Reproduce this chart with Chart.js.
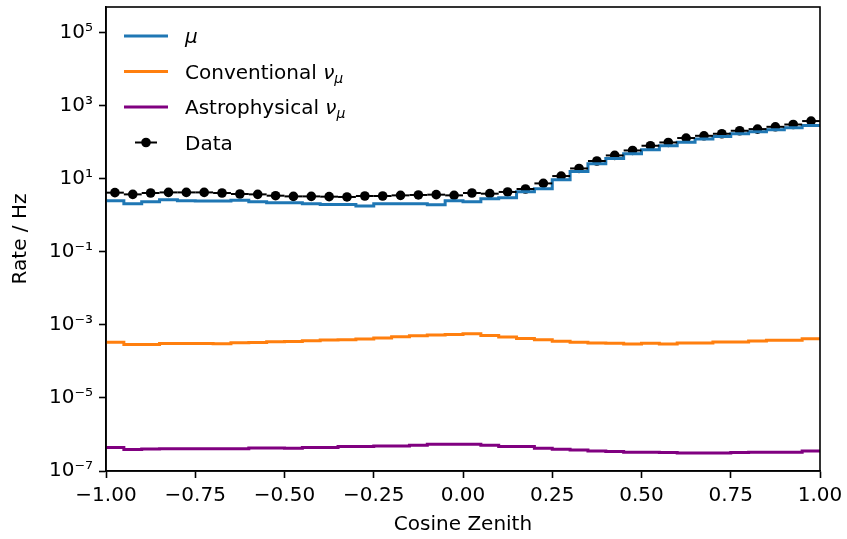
<!DOCTYPE html>
<html>
<head>
<meta charset="utf-8">
<script src="https://cdn.jsdelivr.net/npm/chart.js@4/dist/chart.umd.min.js"></script>
<style>
  html, body { margin: 0; padding: 0; background: #fff; }
  #wrap { width: 847px; height: 539px; position: relative; }
</style>
</head>
<body>
<div id="wrap"><canvas id="c" width="847" height="539"></canvas></div>
<script>
// ---- Data ----
const binEdges = [-1.00,-0.95,-0.90,-0.85,-0.80,-0.75,-0.70,-0.65,-0.60,-0.55,-0.50,-0.45,-0.40,-0.35,-0.30,-0.25,-0.20,-0.15,-0.10,-0.05,0.00,0.05,0.10,0.15,0.20,0.25,0.30,0.35,0.40,0.45,0.50,0.55,0.60,0.65,0.70,0.75,0.80,0.85,0.90,0.95,1.00];

const muRate = [2.54,2.10,2.38,2.70,2.54,2.49,2.49,2.59,2.38,2.24,2.24,2.10,2.01,2.01,1.82,2.10,2.10,2.10,1.97,2.54,2.38,2.88,3.07,4.48,5.41,9.53,16.1,26.1,36.5,49.0,63.1,81.2,102,124,146,173,196,222,252,291];

const convNuMuRate = [3.38e-4,2.92e-4,2.92e-4,3.11e-4,3.11e-4,3.11e-4,3.05e-4,3.26e-4,3.32e-4,3.47e-4,3.53e-4,3.69e-4,3.88e-4,3.93e-4,4.14e-4,4.41e-4,4.75e-4,5.06e-4,5.32e-4,5.50e-4,5.74e-4,5.15e-4,4.69e-4,4.27e-4,3.93e-4,3.60e-4,3.38e-4,3.21e-4,3.18e-4,3.02e-4,3.18e-4,3.02e-4,3.21e-4,3.21e-4,3.43e-4,3.43e-4,3.65e-4,3.84e-4,3.84e-4,4.22e-4];

const astroNuMuRate = [4.37e-7,3.86e-7,4.00e-7,4.10e-7,4.10e-7,4.10e-7,4.10e-7,4.10e-7,4.24e-7,4.24e-7,4.18e-7,4.37e-7,4.37e-7,4.66e-7,4.66e-7,4.83e-7,4.83e-7,5.05e-7,5.38e-7,5.38e-7,5.38e-7,5.05e-7,4.66e-7,4.66e-7,4.18e-7,3.93e-7,3.76e-7,3.53e-7,3.40e-7,3.25e-7,3.25e-7,3.19e-7,3.11e-7,3.11e-7,3.11e-7,3.19e-7,3.25e-7,3.25e-7,3.25e-7,3.53e-7];

const dataRate = [4.21,3.78,4.12,4.28,4.28,4.28,4.12,3.87,3.78,3.48,3.33,3.33,3.27,3.21,3.41,3.41,3.55,3.64,3.71,3.55,4.12,3.95,4.40,5.31,7.55,12.0,19.4,31.0,44.1,60.4,81.2,100,132,152,173,209,232,268,310,385];

const xTicks = [-1.00,-0.75,-0.50,-0.25,0.00,0.25,0.50,0.75,1.00];
const yTickExponents = [-7,-5,-3,-1,1,3,5];

const legendEntries = [
  [{t:'μ', it:true}],
  [{t:'Conventional '}, {t:'ν', it:true}, {t:'μ', it:true, sub:true}],
  [{t:'Astrophysical '}, {t:'ν', it:true}, {t:'μ', it:true, sub:true}],
  [{t:'Data'}]
];

// ---- Build library data ----
function stepPoints(vals) {
  const pts = vals.map((v, i) => ({x: binEdges[i], y: v}));
  pts.push({x: binEdges[binEdges.length - 1], y: vals[vals.length - 1]});
  return pts;
}
const dataPoints = dataRate.map((v, i) => ({x: (binEdges[i] + binEdges[i+1]) / 2, y: v, lo: binEdges[i], hi: binEdges[i+1]}));

const FONT = "'DejaVu Sans', sans-serif";
const supMap = {'-':'⁻','0':'⁰','1':'¹','2':'²','3':'³','4':'⁴','5':'⁵','6':'⁶','7':'⁷','8':'⁸','9':'⁹'};
const toSup = n => String(n).split('').map(c => supMap[c]).join('');

const colors = ['#1f77b4', '#ff7f0e', '#800080', '#000000'];

const frameAndExtras = {
  id: 'frameAndExtras',
  afterDatasetsDraw(chart) {
    const ctx = chart.ctx;
    const xs = chart.scales.x, ys = chart.scales.y;
    const ca = chart.chartArea;
    ctx.save();
    ctx.beginPath();
    ctx.rect(ca.left, ca.top, ca.right - ca.left, ca.bottom - ca.top);
    ctx.clip();
    ctx.strokeStyle = '#000';
    ctx.lineWidth = 2;
    dataPoints.forEach(p => {
      const y = ys.getPixelForValue(p.y);
      ctx.beginPath();
      ctx.moveTo(xs.getPixelForValue(p.lo), y);
      ctx.lineTo(xs.getPixelForValue(p.hi), y);
      ctx.stroke();
    });
    ctx.restore();
  },
  afterDraw(chart) {
    const ctx = chart.ctx;
    const ca = chart.chartArea;
    ctx.save();
    ctx.strokeStyle = '#000';
    ctx.lineWidth = 1.6;
    ctx.strokeRect(ca.left, ca.top, ca.right - ca.left, ca.bottom - ca.top);
    const hx0 = ca.left + 18, hx1 = ca.left + 62, tx = ca.left + 79;
    legendEntries.forEach((parts, i) => {
      const y = ca.top + 29 + 35.5 * i;
      ctx.strokeStyle = colors[i];
      if (i < 3) {
        ctx.lineWidth = 3;
        ctx.beginPath(); ctx.moveTo(hx0, y); ctx.lineTo(hx1, y); ctx.stroke();
      } else {
        ctx.lineWidth = 2;
        ctx.beginPath(); ctx.moveTo(hx0 + 11, y); ctx.lineTo(hx1 - 11, y); ctx.stroke();
        ctx.fillStyle = '#000';
        ctx.beginPath(); ctx.arc((hx0 + hx1) / 2, y, 4.8, 0, Math.PI * 2); ctx.fill();
      }
      let x = tx;
      ctx.fillStyle = '#000';
      ctx.textBaseline = 'alphabetic';
      ctx.textAlign = 'left';
      const base = y + 7;
      parts.forEach(p => {
        const size = p.sub ? 14 : 20;
        ctx.font = (p.it ? 'italic ' : '') + size + 'px ' + FONT;
        ctx.fillText(p.t, x, base + (p.sub ? 4 : 0));
        x += ctx.measureText(p.t).width;
      });
    });
    ctx.restore();
  }
};

const ctx = document.getElementById('c').getContext('2d');
Chart.defaults.color = '#000';
Chart.defaults.font.family = FONT;

new Chart(ctx, {
  type: 'line',
  data: {
    datasets: [
      {label: 'μ', data: stepPoints(muRate), borderColor: colors[0], borderWidth: 3, stepped: true, pointRadius: 0, fill: false},
      {label: 'Conventional νμ', data: stepPoints(convNuMuRate), borderColor: colors[1], borderWidth: 3, stepped: true, pointRadius: 0, fill: false},
      {label: 'Astrophysical νμ', data: stepPoints(astroNuMuRate), borderColor: colors[2], borderWidth: 3, stepped: true, pointRadius: 0, fill: false},
      {label: 'Data', data: dataPoints, showLine: false, pointRadius: 4.8, pointBackgroundColor: '#000', pointBorderColor: '#000', pointBorderWidth: 0, borderColor: '#000'}
    ]
  },
  options: {
    responsive: false,
    animation: false,
    events: [],
    layout: {padding: {top: 7, right: 27, left: 0, bottom: 0}},
    plugins: {legend: {display: false}, tooltip: {enabled: false}},
    scales: {
      x: {
        type: 'linear',
        min: -1, max: 1,
        afterBuildTicks: s => { s.ticks = xTicks.map(v => ({value: v})); },
        afterFit: s => { s.height = 68; s.paddingLeft = 0; s.paddingRight = 0; },
        ticks: {
          font: {size: 20, family: FONT},
          color: '#000',
          padding: 6,
          maxRotation: 0,
          callback: v => v.toFixed(2).replace('-', '−')
        },
        grid: {display: true, drawOnChartArea: false, drawTicks: true, tickLength: 7, tickWidth: 1.6, tickColor: '#000'},
        border: {display: true, color: '#000', width: 1.6},
        title: {display: true, text: 'Cosine Zenith', font: {size: 20, family: FONT}, color: '#000', padding: {top: 0, bottom: 2.5}}
      },
      y: {
        type: 'logarithmic',
        min: 1e-7, max: Math.pow(10, 5.71),
        afterBuildTicks: s => { s.ticks = yTickExponents.map(e => ({value: Math.pow(10, e)})); },
        afterFit: s => { s.width = 106; s.paddingTop = 0; s.paddingBottom = 0; },
        ticks: {
          font: {size: 20, family: FONT},
          color: '#000',
          padding: 6,
          callback: v => '10' + toSup(Math.round(Math.log10(v)))
        },
        grid: {display: true, drawOnChartArea: false, drawTicks: true, tickLength: 7, tickWidth: 1.6, tickColor: '#000'},
        border: {display: true, color: '#000', width: 1.6},
        title: {display: true, text: 'Rate / Hz', font: {size: 20, family: FONT}, color: '#000', padding: {top: 9, bottom: 0}}
      }
    }
  },
  plugins: [frameAndExtras]
});
</script>
</body>
</html>
